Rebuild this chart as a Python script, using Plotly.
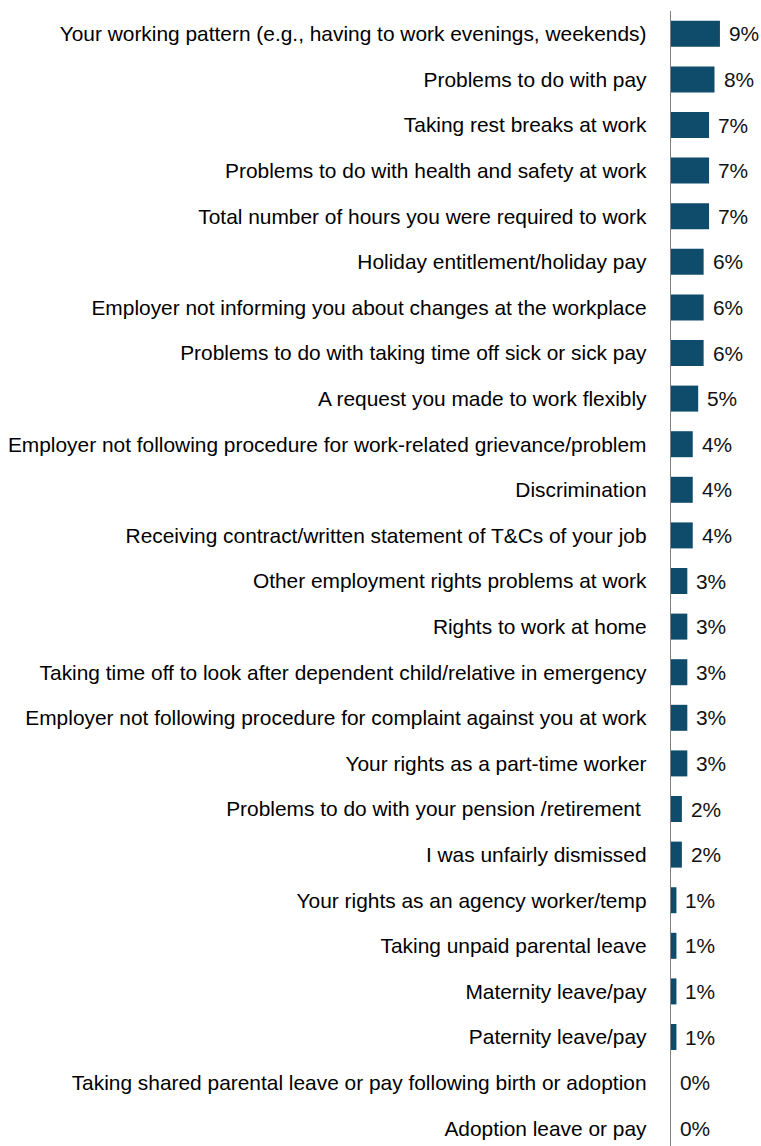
import plotly.graph_objects as go

categories = [
    "Your working pattern (e.g., having to work evenings, weekends)",
    "Problems to do with pay",
    "Taking rest breaks at work",
    "Problems to do with health and safety at work",
    "Total number of hours you were required to work",
    "Holiday entitlement/holiday pay",
    "Employer not informing you about changes at the workplace",
    "Problems to do with taking time off sick or sick pay",
    "A request you made to work flexibly",
    "Employer not following procedure for work-related grievance/problem",
    "Discrimination",
    "Receiving contract/written statement of T&Cs of your job",
    "Other employment rights problems at work",
    "Rights to work at home",
    "Taking time off to look after dependent child/relative in emergency",
    "Employer not following procedure for complaint against you at work",
    "Your rights as a part-time worker",
    "Problems to do with your pension /retirement ",
    "I was unfairly dismissed",
    "Your rights as an agency worker/temp",
    "Taking unpaid parental leave",
    "Maternity leave/pay",
    "Paternity leave/pay",
    "Taking shared parental leave or pay following birth or adoption",
    "Adoption leave or pay",
]
values = [9, 8, 7, 7, 7, 6, 6, 6, 5, 4, 4, 4, 3, 3, 3, 3, 3, 2, 2, 1, 1, 1, 1, 0, 0]
value_labels = [f"{v}%" for v in values]

FONT = "Liberation Sans, Arial, sans-serif"
FS = 20.9

fig = go.Figure(
    go.Bar(
        x=values,
        y=categories,
        orientation="h",
        marker=dict(color="#0F4B6B", line=dict(width=0)),
        width=0.57,
        hoverinfo="skip",
    )
)

for cat, v, lab in zip(categories, values, value_labels):
    fig.add_annotation(
        x=v, y=cat, text=lab, showarrow=False,
        xanchor="left", yanchor="middle", xshift=7,
        font=dict(family=FONT, size=FS, color="#111111"),
    )

fig.update_layout(
    width=761, height=1146,
    margin=dict(l=671, r=3, t=11, b=0),
    paper_bgcolor="white", plot_bgcolor="white",
    showlegend=False,
    font=dict(family=FONT, size=FS, color="#000000"),
)
fig.update_xaxes(range=[0, 16], visible=False, fixedrange=True)
fig.update_yaxes(
    type="category",
    categoryorder="array", categoryarray=categories,
    range=[24.39, -0.5],
    showline=True, linecolor="#808080", linewidth=1.3,
    ticks="", showgrid=False, zeroline=False,
    ticklabelstandoff=19,
    automargin=False,
    fixedrange=True,
    tickfont=dict(family=FONT, size=FS, color="#000000"),
)

fig.write_html(
    "out.html",
    config={"displayModeBar": False, "staticPlot": True},
    post_script="document.body.style.margin='0';document.body.style.overflow='hidden';",
)
